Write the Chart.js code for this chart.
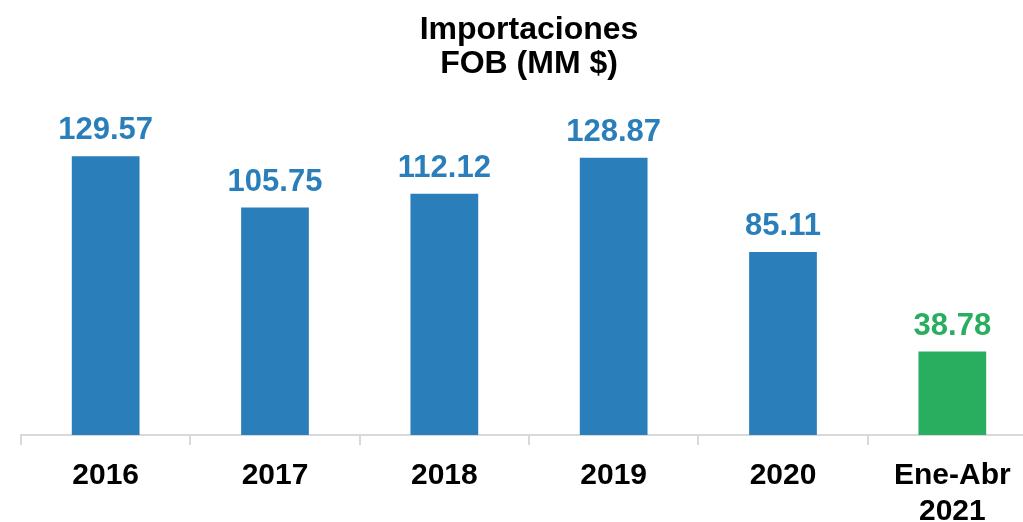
<!DOCTYPE html>
<html lang="es">
<head>
    <meta charset="UTF-8">
    <title>Importaciones FOB (MM $)</title>
    <script src="https://cdn.jsdelivr.net/npm/chart.js"></script>
    <style>
        html, body { margin: 0; padding: 0; background: #fff; overflow: hidden; }
        #wrap { width: 1040px; height: 543px; position: relative; }
    </style>
</head>
<body>
    <div id="wrap"><canvas id="importChart"></canvas></div>
    <script>
        // Datos
        const categories = ['2016', '2017', '2018', '2019', '2020', ['Ene-Abr', '2021']];
        const values = [129.57, 105.75, 112.12, 128.87, 85.11, 38.78];
        const barColors = ['#2a7fba', '#2a7fba', '#2a7fba', '#2a7fba', '#2a7fba', '#28ae5e'];

        const FONT = "'Liberation Sans', Arial, sans-serif";

        // etiquetas de valor encima de cada barra
        const valueLabels = {
            id: 'valueLabels',
            afterDatasetsDraw(chart) {
                const c = chart.ctx;
                const meta = chart.getDatasetMeta(0);
                c.save();
                c.font = 'bold 31px ' + FONT;
                c.textAlign = 'center';
                c.textBaseline = 'alphabetic';
                meta.data.forEach((bar, i) => {
                    c.fillStyle = barColors[i];
                    c.fillText(values[i].toFixed(2), bar.x, bar.y - 17);
                });
                c.restore();
            }
        };

        const ctx = document.getElementById('importChart').getContext('2d');
        new Chart(ctx, {
            type: 'bar',
            data: {
                labels: categories,
                datasets: [{
                    data: values,
                    backgroundColor: barColors,
                    barPercentage: 1,
                    categoryPercentage: 0.4
                }]
            },
            options: {
                responsive: true,
                maintainAspectRatio: false,
                animation: false,
                layout: { padding: { left: 21, right: 3, top: 0, bottom: 0 } },
                plugins: {
                    legend: { display: false },
                    tooltip: { enabled: false },
                    title: {
                        display: true,
                        text: ['Importaciones', 'FOB (MM $)'],
                        color: '#000',
                        font: { family: FONT, size: 32, weight: 'bold', lineHeight: 1.06 },
                        padding: { top: 13, bottom: 53 }
                    }
                },
                scales: {
                    x: {
                        offset: true,
                        border: { display: true, color: '#d9d9d9', width: 2 },
                        grid: {
                            offset: true,
                            display: true,
                            drawOnChartArea: false,
                            drawTicks: true,
                            tickLength: 10,
                            color: '#d9d9d9',
                            lineWidth: 2
                        },
                        ticks: {
                            color: '#000',
                            padding: 13,
                            maxRotation: 0,
                            autoSkip: false,
                            font: { family: FONT, size: 30, weight: 'bold', lineHeight: 1.2 }
                        }
                    },
                    y: {
                        display: false,
                        min: 0,
                        max: 140
                    }
                }
            },
            plugins: [valueLabels]
        });
    </script>
</body>
</html>
